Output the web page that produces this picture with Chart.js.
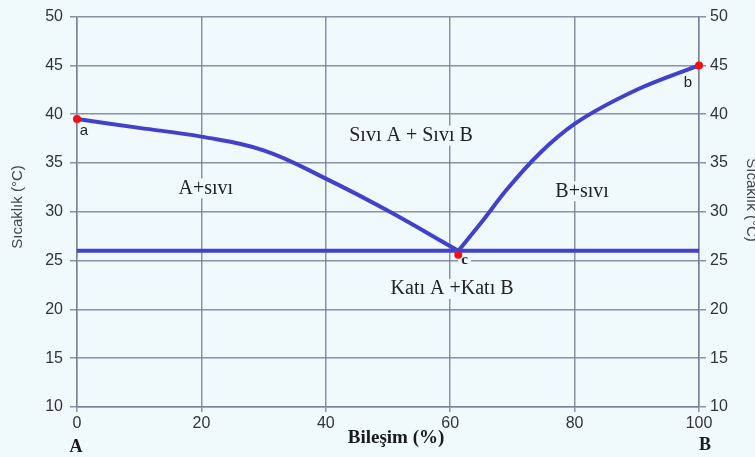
<!DOCTYPE html>
<html>
<head>
<meta charset="utf-8">
<script src="https://cdn.jsdelivr.net/npm/chart.js@4.4.0/dist/chart.umd.min.js"></script>
<style>
    body { margin: 0; background: #f0fafd; }
    #contenedor { width: 755px; height: 457px; }
</style>
</head>
<body>
<div id="contenedor"><canvas id="grafico"></canvas></div>
<script>
// Datos del diagrama (Bileşim % vs Sıcaklık °C)
const ramaIzqX = [0, 10, 20, 30, 40, 50, 61.3];
const ramaIzqY = [39.5, 38.6, 37.7, 36.3, 33.4, 30.1, 26];
const ramaDerX = [61.3, 65, 69, 74.4, 80, 90, 100];
const ramaDerY = [26, 28.9, 32.2, 36, 39, 42.5, 45];
const lineaEutX = [0, 100];
const lineaEutY = [26, 26];
const puntosX = [0, 100, 61.3];
const puntosY = [39.5, 45, 25.6];

const etiquetas = ['a', 'b', 'c', 'A+sıvı', 'Sıvı A + Sıvı B', 'B+sıvı', 'Katı A +Katı B'];
const etiquetasX = [1.1, 98.2, 62.3, 20.7, 53.7, 81.2, 60.3];
const etiquetasY = [38.3, 43.2, 25.0, 32.4, 37.8, 32.1, 22.1];

const tituloEjeY = 'Sıcaklık (°C)';
const tituloEjeX = 'Bileşim (%)';

const fondo = '#f0fafd';
const azul = '#4141cc';
const rejilla = 'rgba(118,128,150,0.85)';

function aPuntos(xs, ys) {
    return xs.map((x, i) => ({ x: x, y: ys[i] }));
}

function fuenteEtiqueta(txt) {
    if (txt === 'a' || txt === 'b') return '15px "Liberation Sans", Arial, sans-serif';
    if (txt === 'c') return 'bold 15px "Liberation Serif", serif';
    return '20px "Liberation Serif", "Times New Roman", serif';
}

const pluginTextos = {
    id: 'textos',
    beforeDraw(chart) {
        let ctx = chart.ctx;
        ctx.save();
        ctx.fillStyle = fondo;
        ctx.fillRect(0, 0, chart.width, chart.height);
        ctx.restore();
    },
    beforeDatasetsDraw(chart) {
        // tapa la rejilla detras de los textos grandes
        let ctx = chart.ctx;
        let sx = chart.scales.x;
        let sy = chart.scales.y;
        ctx.save();
        etiquetas.forEach((txt, i) => {
            if (txt === 'a' || txt === 'b') return;
            let px = sx.getPixelForValue(etiquetasX[i]);
            let py = sy.getPixelForValue(etiquetasY[i]);
            ctx.font = fuenteEtiqueta(txt);
            let w = ctx.measureText(txt).width;
            ctx.fillStyle = fondo;
            ctx.fillRect(px - w / 2 - 3, py - 10, w + 6, 20);
        });
        ctx.restore();
    },
    afterDatasetsDraw(chart) {
        let ctx = chart.ctx;
        let sx = chart.scales.x;
        let sy = chart.scales.y;
        ctx.save();
        ctx.textAlign = 'center';
        ctx.textBaseline = 'middle';

        etiquetas.forEach((txt, i) => {
            let px = sx.getPixelForValue(etiquetasX[i]);
            let py = sy.getPixelForValue(etiquetasY[i]);
            ctx.font = fuenteEtiqueta(txt);
            ctx.fillStyle = '#222';
            ctx.fillText(txt, px, py);
        });

        // textos bajo el eje X
        ctx.font = 'bold 19px "Liberation Serif", "Times New Roman", serif';
        ctx.fillStyle = '#1a1a1a';
        ctx.fillText(tituloEjeX, (sx.left + sx.right) / 2 + 8, 438);
        ctx.font = 'bold 18px "Liberation Serif", "Times New Roman", serif';
        ctx.fillText('A', sx.left - 1, 447);
        ctx.fillText('B', sx.right + 6, 445);

        // titulos del eje Y
        ctx.font = '15px "Liberation Sans", Arial, sans-serif';
        ctx.fillStyle = '#444';
        ctx.translate(18, 207);
        ctx.rotate(-Math.PI / 2);
        ctx.fillText(tituloEjeY, 0, 0);
        ctx.restore();

        ctx.save();
        ctx.font = '15px "Liberation Sans", Arial, sans-serif';
        ctx.fillStyle = '#444';
        ctx.textAlign = 'center';
        ctx.textBaseline = 'middle';
        ctx.translate(751, 200);
        ctx.rotate(Math.PI / 2);
        ctx.fillText(tituloEjeY, 0, 0);
        ctx.restore();
    }
};

const fuenteTicks = { family: '"Liberation Sans", Arial, sans-serif', size: 16 };

new Chart(document.getElementById('grafico'), {
    type: 'scatter',
    data: {
        datasets: [
            {
                data: aPuntos(puntosX, puntosY),
                showLine: false,
                pointRadius: 4,
                pointBackgroundColor: '#f01010',
                pointBorderWidth: 0,
                clip: false,
                order: 0
            },
            {
                data: aPuntos(lineaEutX, lineaEutY),
                showLine: true,
                borderColor: azul,
                borderWidth: 4,
                pointRadius: 0,
                order: 1
            },
            {
                data: aPuntos(ramaIzqX, ramaIzqY),
                showLine: true,
                borderColor: azul,
                borderWidth: 4,
                pointRadius: 0,
                tension: 0.4,
                order: 1
            },
            {
                data: aPuntos(ramaDerX, ramaDerY),
                showLine: true,
                borderColor: azul,
                borderWidth: 4,
                pointRadius: 0,
                cubicInterpolationMode: 'monotone',
                order: 1
            }
        ]
    },
    options: {
        responsive: true,
        maintainAspectRatio: false,
        animation: false,
        layout: { padding: { top: 11 } },
        plugins: {
            legend: { display: false },
            tooltip: { enabled: false }
        },
        scales: {
            x: {
                type: 'linear',
                min: 0,
                max: 100,
                afterFit: s => { s.height = 50; },
                ticks: { stepSize: 20, color: '#333', font: fuenteTicks, padding: 2, maxRotation: 0 },
                grid: { color: rejilla, lineWidth: 1.5, tickLength: 5 },
                border: { color: rejilla, width: 1.5 }
            },
            y: {
                min: 10,
                max: 50,
                position: 'left',
                afterFit: s => { s.width = 77; },
                ticks: { stepSize: 5, color: '#333', font: fuenteTicks, padding: 7 },
                grid: { color: rejilla, lineWidth: 1.5, tickLength: 7 },
                border: { color: rejilla, width: 1.5 }
            },
            y2: {
                min: 10,
                max: 50,
                position: 'right',
                afterFit: s => { s.width = 56; },
                ticks: { stepSize: 5, color: '#333', font: fuenteTicks, padding: 4 },
                grid: { drawOnChartArea: false, color: rejilla, lineWidth: 1.5, tickLength: 7 },
                border: { color: rejilla, width: 1.5 }
            }
        }
    },
    plugins: [pluginTextos]
});
</script>
</body>
</html>
